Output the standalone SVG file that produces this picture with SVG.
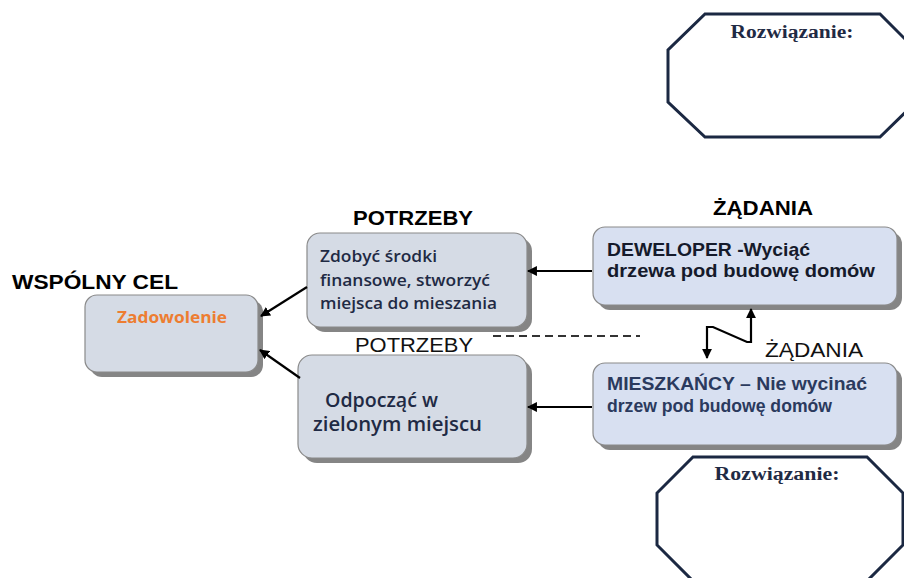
<svg xmlns="http://www.w3.org/2000/svg" width="904" height="578" viewBox="0 0 904 578">
  <style>
    .box { stroke: #8a8a8a; stroke-width: 1.2; }
    .grey { fill: #d5dbe5; }
    .blue { fill: #d8e0f1; }
    .shadow { fill: #858585; }
    .oct { fill: #ffffff; stroke: #1b2842; stroke-width: 3; stroke-linejoin: miter; }
    .head { font-family: "Liberation Sans", Arial, sans-serif; font-weight: bold; fill: #000000; }
    .plain { font-family: "Liberation Sans", Arial, sans-serif; fill: #111111; }
    .body { font-family: "Open Sans", "Liberation Sans", sans-serif; font-weight: 600; fill: #1f2a44; }
    .dem { font-family: "Liberation Sans", Arial, sans-serif; font-weight: bold; }
    .serif { font-family: "Liberation Serif", "Times New Roman", serif; font-weight: bold; fill: #1f2a44; }
    .link { stroke: #000000; stroke-width: 2.2; fill: none; }
  </style>
  <defs>
    <marker id="arrow" viewBox="0 0 10 10" refX="9" refY="5" markerWidth="4.5" markerHeight="4.5" orient="auto-start-reverse" markerUnits="strokeWidth">
      <path d="M0,0 L10,5 L0,10 z" fill="#000000"/>
    </marker>
  </defs>

  <rect width="904" height="578" fill="#ffffff"/>

  <!-- solution octagons -->
  <g id="solution-top">
    <polygon class="oct" points="705,14 880,14 916,50 916,102 880,137 705,137 668,102 668,50"/>
    <text class="serif" x="792" y="38" font-size="18" text-anchor="middle" textLength="123" lengthAdjust="spacingAndGlyphs">Rozwiązanie:</text>
  </g>
  <g id="solution-bottom">
    <polygon class="oct" points="693,457 867,457 903,493 903,545 867,581 693,581 657,545 657,493"/>
    <text class="serif" x="777" y="480" font-size="18" text-anchor="middle" textLength="125" lengthAdjust="spacingAndGlyphs">Rozwiązanie:</text>
  </g>

  <!-- section headings -->
  <g id="labels">
    <text class="head" x="12" y="289" font-size="20" textLength="166" lengthAdjust="spacingAndGlyphs">WSPÓLNY CEL</text>
    <text class="head" x="353" y="225" font-size="20" textLength="120" lengthAdjust="spacingAndGlyphs">POTRZEBY</text>
    <text class="head" x="713" y="215" font-size="20" textLength="100" lengthAdjust="spacingAndGlyphs">ŻĄDANIA</text>
    <text class="plain" x="355" y="352" font-size="20" textLength="118" lengthAdjust="spacingAndGlyphs">POTRZEBY</text>
    <text class="plain" x="765" y="357" font-size="20" textLength="98" lengthAdjust="spacingAndGlyphs">ŻĄDANIA</text>
  </g>

  <!-- common goal -->
  <g id="goal">
    <rect class="shadow" x="90" y="300" width="173" height="77" rx="12"/>
    <rect class="box grey" x="85" y="295" width="173" height="77" rx="12"/>
    <text x="172" y="323" font-size="16" text-anchor="middle" font-family="Open Sans, Liberation Sans, sans-serif" font-weight="bold" fill="#ed7d31" textLength="110" lengthAdjust="spacingAndGlyphs">Zadowolenie</text>
  </g>

  <!-- needs -->
  <g id="need-developer">
    <rect class="shadow" x="312" y="238" width="220" height="94" rx="13"/>
    <rect class="box grey" x="307" y="233" width="220" height="94" rx="13"/>
    <text class="body" font-size="17">
      <tspan x="320" y="262" textLength="117" lengthAdjust="spacingAndGlyphs">Zdobyć środki</tspan>
      <tspan x="320" y="286" textLength="170" lengthAdjust="spacingAndGlyphs">finansowe, stworzyć</tspan>
      <tspan x="320" y="309" textLength="177" lengthAdjust="spacingAndGlyphs">miejsca do mieszania</tspan>
    </text>
  </g>
  <g id="need-residents">
    <rect class="shadow" x="303" y="360" width="229" height="103" rx="14"/>
    <rect class="box grey" x="298" y="355" width="229" height="103" rx="14"/>
    <text class="body" font-size="19">
      <tspan x="325" y="407" textLength="113" lengthAdjust="spacingAndGlyphs">Odpocząć w</tspan>
      <tspan x="313" y="431" textLength="169" lengthAdjust="spacingAndGlyphs">zielonym miejscu</tspan>
    </text>
  </g>

  <!-- demands -->
  <g id="demand-developer">
    <rect class="shadow" x="598" y="232" width="304" height="78" rx="12"/>
    <rect class="box blue" x="593" y="227" width="304" height="78" rx="12"/>
    <text class="dem" font-size="19" fill="#151a2b">
      <tspan x="607" y="256" textLength="203" lengthAdjust="spacingAndGlyphs">DEWELOPER -Wyciąć</tspan>
      <tspan x="607" y="277" textLength="268" lengthAdjust="spacingAndGlyphs">drzewa pod budowę domów</tspan>
    </text>
  </g>
  <g id="demand-residents">
    <rect class="shadow" x="598" y="368" width="304" height="82" rx="12"/>
    <rect class="box blue" x="593" y="363" width="304" height="82" rx="12"/>
    <text class="dem" font-size="19" fill="#2b3a5e">
      <tspan x="607" y="390" textLength="260" lengthAdjust="spacingAndGlyphs">MIESZKAŃCY – Nie wycinać</tspan>
      <tspan x="607" y="412" textLength="225" lengthAdjust="spacingAndGlyphs">drzew pod budowę domów</tspan>
    </text>
  </g>

  <!-- connectors -->
  <g id="connectors">
    <line class="link" x1="592" y1="271" x2="528" y2="271" marker-end="url(#arrow)"/>
    <line class="link" x1="592" y1="407" x2="528" y2="407" marker-end="url(#arrow)"/>
    <line class="link" x1="307" y1="287" x2="261" y2="316" marker-end="url(#arrow)"/>
    <line class="link" x1="300" y1="378" x2="260" y2="350" marker-end="url(#arrow)"/>
    <polyline class="link" points="707,358 707,327 713,327 747,342 751,342 751,309" marker-start="url(#arrow)" marker-end="url(#arrow)"/>
    <line x1="493" y1="336" x2="640" y2="336" stroke="#333333" stroke-width="2" stroke-dasharray="8,5"/>
  </g>
</svg>
